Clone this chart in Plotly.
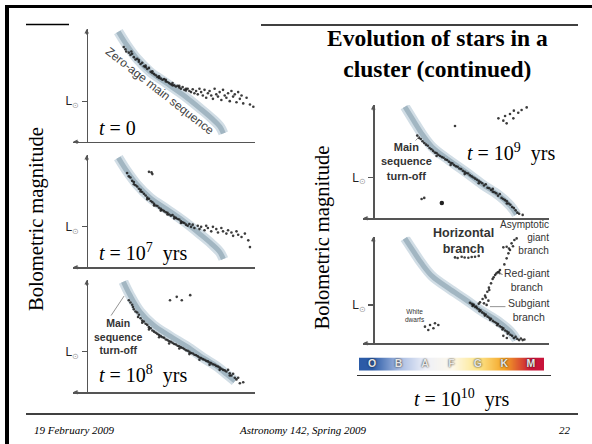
import plotly.graph_objects as go

W, H = 592, 444

# ---------------- data ----------------
L_SUN = 0.36  # position of the L_sun tick on each luminosity axis

# zero-age main sequence track (normalised colour, normalised luminosity)
zams_left_x = [0.188, 0.238, 0.297, 0.376, 0.475, 0.574, 0.673, 0.743, 0.792, 0.812]
zams_left_y = [0.976, 0.858, 0.740, 0.621, 0.518, 0.414, 0.296, 0.207, 0.133, 0.074]
zams_108_x = [0.218, 0.257, 0.317, 0.396, 0.495, 0.594, 0.693, 0.772, 0.832, 0.881]
zams_108_y = [0.985, 0.866, 0.718, 0.599, 0.500, 0.410, 0.306, 0.232, 0.160, 0.100]
zams_right_x = [0.180, 0.228, 0.275, 0.335, 0.430, 0.525, 0.620, 0.712, 0.780, 0.815]
zams_right_y = [0.985, 0.865, 0.750, 0.630, 0.515, 0.410, 0.300, 0.205, 0.110, 0.035]

stars_t0 = [(0.22, 0.84), (0.23, 0.82), (0.235, 0.80), (0.25, 0.79), (0.26, 0.77), (0.265, 0.80),
            (0.28, 0.75), (0.29, 0.73), (0.30, 0.735), (0.31, 0.71), (0.32, 0.69), (0.33, 0.70),
            (0.34, 0.67), (0.35, 0.66), (0.36, 0.645), (0.37, 0.655), (0.38, 0.62), (0.39, 0.61),
            (0.40, 0.60), (0.41, 0.59), (0.42, 0.575), (0.43, 0.58), (0.44, 0.56), (0.45, 0.55),
            (0.46, 0.555), (0.47, 0.535), (0.48, 0.53), (0.49, 0.52), (0.50, 0.51), (0.51, 0.52),
            (0.52, 0.50), (0.53, 0.49), (0.54, 0.495), (0.55, 0.48), (0.56, 0.47), (0.57, 0.485),
            (0.58, 0.46), (0.59, 0.455), (0.60, 0.47), (0.61, 0.45), (0.62, 0.44), (0.63, 0.465),
            (0.64, 0.43), (0.65, 0.45), (0.66, 0.42), (0.67, 0.47), (0.68, 0.44), (0.69, 0.41),
            (0.70, 0.46), (0.71, 0.39), (0.72, 0.43), (0.73, 0.45), (0.74, 0.41), (0.75, 0.38),
            (0.76, 0.47), (0.77, 0.42), (0.78, 0.40), (0.79, 0.44), (0.80, 0.37), (0.81, 0.46),
            (0.82, 0.41), (0.83, 0.39), (0.84, 0.43), (0.85, 0.36), (0.86, 0.45), (0.87, 0.40),
            (0.88, 0.42), (0.89, 0.35), (0.90, 0.44), (0.91, 0.38), (0.92, 0.41), (0.93, 0.34),
            (0.95, 0.39), (0.97, 0.33), (0.99, 0.31),
            (0.27, 0.78), (0.31, 0.725), (0.35, 0.675), (0.39, 0.625), (0.43, 0.565), (0.47, 0.55),
            (0.51, 0.50), (0.55, 0.495), (0.59, 0.47)]

stars_t7 = [(0.37, 0.85), (0.385, 0.845), (0.39, 0.83),
            (0.24, 0.84), (0.25, 0.81), (0.26, 0.80), (0.27, 0.77), (0.28, 0.76), (0.29, 0.73),
            (0.30, 0.72), (0.31, 0.70), (0.32, 0.69), (0.33, 0.67), (0.34, 0.655), (0.35, 0.64),
            (0.36, 0.62), (0.37, 0.61), (0.38, 0.59), (0.39, 0.58), (0.40, 0.565), (0.41, 0.55),
            (0.42, 0.545), (0.43, 0.53), (0.44, 0.52), (0.45, 0.51), (0.46, 0.50), (0.47, 0.49),
            (0.48, 0.485), (0.49, 0.47), (0.50, 0.46), (0.51, 0.465), (0.52, 0.45), (0.53, 0.44),
            (0.54, 0.43), (0.55, 0.425), (0.56, 0.41), (0.57, 0.40), (0.58, 0.395), (0.59, 0.38),
            (0.60, 0.37), (0.61, 0.385), (0.62, 0.36), (0.63, 0.38), (0.64, 0.35), (0.66, 0.37),
            (0.67, 0.34), (0.68, 0.36), (0.70, 0.33), (0.71, 0.37), (0.72, 0.35), (0.74, 0.32),
            (0.75, 0.36), (0.77, 0.34), (0.78, 0.31), (0.80, 0.35), (0.81, 0.32), (0.83, 0.30),
            (0.84, 0.33), (0.86, 0.31), (0.87, 0.28), (0.89, 0.32), (0.90, 0.29), (0.92, 0.27),
            (0.94, 0.30), (0.96, 0.24), (0.97, 0.18),
            (0.28, 0.74), (0.32, 0.675), (0.36, 0.605), (0.40, 0.55), (0.44, 0.505), (0.48, 0.47),
            (0.52, 0.435), (0.56, 0.395)]

stars_t8 = [(0.495, 0.82), (0.535, 0.85), (0.565, 0.82), (0.615, 0.865),
            (0.25, 0.82), (0.26, 0.80), (0.27, 0.78), (0.275, 0.76), (0.28, 0.74), (0.29, 0.72),
            (0.30, 0.71), (0.31, 0.69), (0.305, 0.67), (0.32, 0.66), (0.33, 0.64), (0.34, 0.63),
            (0.35, 0.61), (0.36, 0.60), (0.37, 0.58), (0.38, 0.57), (0.39, 0.55), (0.40, 0.54),
            (0.41, 0.53), (0.42, 0.52), (0.43, 0.51), (0.44, 0.50), (0.45, 0.49), (0.46, 0.485),
            (0.47, 0.47), (0.48, 0.465), (0.49, 0.455), (0.50, 0.45), (0.51, 0.44), (0.52, 0.43),
            (0.53, 0.425), (0.54, 0.415), (0.55, 0.41), (0.56, 0.40), (0.57, 0.395), (0.58, 0.385),
            (0.59, 0.375), (0.60, 0.37), (0.61, 0.36), (0.62, 0.35), (0.63, 0.345), (0.64, 0.335),
            (0.65, 0.33), (0.66, 0.32), (0.67, 0.31), (0.68, 0.305), (0.69, 0.295), (0.70, 0.29),
            (0.71, 0.28), (0.72, 0.275), (0.73, 0.265), (0.74, 0.26), (0.75, 0.25), (0.76, 0.245),
            (0.77, 0.235), (0.78, 0.23), (0.79, 0.22), (0.80, 0.21), (0.81, 0.20), (0.82, 0.195),
            (0.83, 0.185), (0.84, 0.20), (0.85, 0.17), (0.86, 0.15), (0.87, 0.165), (0.88, 0.13),
            (0.89, 0.115), (0.90, 0.13), (0.91, 0.08), (0.93, 0.09),
            (0.33, 0.62), (0.37, 0.56), (0.43, 0.49), (0.49, 0.435), (0.55, 0.39), (0.61, 0.34),
            (0.67, 0.29), (0.73, 0.245), (0.79, 0.20), (0.85, 0.15)]

stars_t9 = [(0.712, 0.882), (0.75, 0.903), (0.778, 0.92), (0.825, 0.932), (0.873, 0.979),
            (0.759, 0.838), (0.74, 0.862), (0.797, 0.882), (0.844, 0.956), (0.80, 0.95),
            (0.465, 0.815), (0.275, 0.17), (0.29, 0.18),
            (0.25, 0.73), (0.26, 0.71), (0.27, 0.70), (0.28, 0.68), (0.29, 0.665), (0.30, 0.65),
            (0.31, 0.64), (0.32, 0.62), (0.33, 0.61), (0.34, 0.595), (0.35, 0.58), (0.36, 0.575),
            (0.37, 0.56), (0.38, 0.55), (0.39, 0.54), (0.40, 0.535), (0.41, 0.52), (0.42, 0.515),
            (0.43, 0.50), (0.44, 0.49), (0.45, 0.485), (0.46, 0.47), (0.47, 0.46), (0.48, 0.455),
            (0.49, 0.44), (0.50, 0.435), (0.51, 0.42), (0.52, 0.41), (0.53, 0.40), (0.54, 0.395),
            (0.55, 0.38), (0.56, 0.37), (0.57, 0.36), (0.58, 0.35), (0.59, 0.34), (0.60, 0.33),
            (0.61, 0.32), (0.62, 0.31), (0.63, 0.29), (0.64, 0.30), (0.65, 0.27), (0.66, 0.265),
            (0.67, 0.25), (0.68, 0.26), (0.69, 0.23), (0.70, 0.22), (0.71, 0.20), (0.72, 0.215),
            (0.73, 0.18), (0.74, 0.17), (0.75, 0.16), (0.76, 0.15), (0.77, 0.13), (0.78, 0.12),
            (0.79, 0.10), (0.80, 0.09), (0.81, 0.07), (0.82, 0.05), (0.83, 0.04), (0.85, 0.03),
            (0.36, 0.55), (0.44, 0.47), (0.52, 0.39), (0.60, 0.31), (0.68, 0.235), (0.76, 0.13)]
big_star_t9 = [(0.39, 0.135)]

stars_t10 = [  # lower main sequence
             (0.55, 0.38), (0.56, 0.37), (0.565, 0.35), (0.57, 0.36), (0.58, 0.34), (0.59, 0.33),
             (0.60, 0.32), (0.605, 0.30), (0.61, 0.31), (0.62, 0.29), (0.63, 0.28), (0.635, 0.26),
             (0.64, 0.27), (0.65, 0.25), (0.66, 0.24), (0.665, 0.22), (0.67, 0.23), (0.68, 0.21),
             (0.69, 0.20), (0.70, 0.19), (0.705, 0.17), (0.71, 0.18), (0.72, 0.16), (0.73, 0.15),
             (0.735, 0.13), (0.74, 0.14), (0.75, 0.12), (0.76, 0.11), (0.765, 0.09), (0.77, 0.10),
             (0.78, 0.08), (0.79, 0.07), (0.80, 0.05), (0.81, 0.06), (0.82, 0.04), (0.83, 0.03),
             (0.84, 0.045), (0.85, 0.03), (0.86, 0.035), (0.76, 0.05), (0.74, 0.07),
             # subgiant branch
             (0.57, 0.36), (0.585, 0.345), (0.60, 0.37), (0.645, 0.36), (0.655, 0.40), (0.63, 0.375),
             # red-giant branch
             (0.607, 0.384), (0.622, 0.416), (0.636, 0.447), (0.649, 0.484), (0.658, 0.522),
             (0.67, 0.5625), (0.679, 0.603), (0.693, 0.641), (0.708, 0.666), (0.721, 0.6875),
             (0.64, 0.43), (0.66, 0.50), (0.685, 0.62), (0.70, 0.655), (0.715, 0.67),
             # asymptotic giant branch
             (0.746, 0.74), (0.759, 0.797), (0.769, 0.844), (0.772, 0.89), (0.787, 0.9375),
             (0.803, 0.969), (0.816, 0.984), (0.759, 0.906), (0.778, 0.875), (0.74, 0.90),
             (0.795, 0.91),
             # horizontal branch
             (0.465, 0.806), (0.48, 0.80), (0.503, 0.8125), (0.52, 0.805), (0.541, 0.803),
             (0.56, 0.81), (0.579, 0.8125), (0.60, 0.82),
             # white dwarfs
             (0.294, 0.156), (0.323, 0.172), (0.351, 0.188), (0.313, 0.125), (0.342, 0.141),
             (0.37, 0.172)]

spectral_types = ["O", "B", "A", "F", "G", "K", "M"]
spectral_index = [0, 1, 2, 3, 4, 5, 6]
spectral_colors = ["#2b5ba7", "#a8bce2", "#eef0f8", "#fdf8ea", "#fde68a", "#f4a324", "#c8143a"]

panel_times = ["<i>t</i> = 0",
               "<i>t</i> = 10<sup>7</sup>\u00a0 yrs",
               "<i>t</i> = 10<sup>8</sup>\u00a0 yrs",
               "<i>t</i> = 10<sup>9</sup>\u00a0 yrs",
               "<i>t</i> = 10<sup>10</sup>\u00a0 yrs"]

# ---------------- layout helpers ----------------
def px(xp):
    return xp / W


def py(yp):
    return 1 - yp / H


# (left edge, y-axis position, right edge, top, bottom) in pixels
panels = [
    dict(box=(73, 86.7, 255, 29, 141.7), zams=(zams_left_x, zams_left_y), stars=stars_t0),
    dict(box=(73, 86.7, 255, 155, 267.3), zams=(zams_left_x, zams_left_y), stars=stars_t7),
    dict(box=(73, 86.7, 255, 280, 392.3), zams=(zams_108_x, zams_108_y), stars=stars_t8),
    dict(box=(363, 373.3, 549, 105, 218.3), zams=(zams_right_x, zams_right_y), stars=stars_t9),
    dict(box=(363, 373.3, 549, 236.7, 343.3), zams=(zams_right_x, zams_right_y), stars=stars_t10),
]

fig = go.Figure()
layout = {}
annotations = []
AXC = "#555555"

for i, p in enumerate(panels, start=1):
    xl, xa, xr, yt, yb = p["box"]
    xn = "x" if i == 1 else f"x{i}"
    yn = "y" if i == 1 else f"y{i}"
    xkey = "xaxis" if i == 1 else f"xaxis{i}"
    ykey = "yaxis" if i == 1 else f"yaxis{i}"
    xmin = (xl - xa) / (xr - xa)
    layout[xkey] = dict(domain=[px(xl), px(xr)], range=[xmin, 1.0], anchor=yn,
                        showline=True, linecolor=AXC, linewidth=1.3, showgrid=False,
                        zeroline=False, showticklabels=False, ticks="", fixedrange=True)
    layout[ykey] = dict(domain=[py(yb), py(yt)], range=[0, 1.0], anchor="free",
                        position=px(xa), showline=True, linecolor=AXC, linewidth=1.3,
                        showgrid=False, zeroline=False, ticks="outside", ticklen=5,
                        tickcolor=AXC, tickwidth=1.2, tickvals=[L_SUN],
                        ticktext=["L<sub><span style='color:#999'>\u2299</span></sub>"],
                        tickfont=dict(family="Liberation Sans", size=12, color="#222"),
                        fixedrange=True)
    zx, zy = p["zams"]
    fig.add_trace(go.Scatter(x=zx, y=zy, mode="lines", xaxis=xn, yaxis=yn,
                             line=dict(color="rgba(190,206,218,0.7)", width=10, shape="spline"),
                             hoverinfo="skip"))
    fig.add_trace(go.Scatter(x=zx, y=zy, mode="lines", xaxis=xn, yaxis=yn,
                             line=dict(color="#a2b6c2", width=5, shape="spline"),
                             hoverinfo="skip"))
    sx = [s[0] for s in p["stars"]]
    sy = [s[1] for s in p["stars"]]
    fig.add_trace(go.Scatter(x=sx, y=sy, mode="markers", xaxis=xn, yaxis=yn,
                             marker=dict(color="#1a1a1a", size=2.6, opacity=0.85),
                             cliponaxis=False, hoverinfo="skip"))
    # arrow heads on the axes
    annotations.append(dict(x=0, y=1.0, xref=xn, yref=yn, text="", showarrow=True,
                            ax=0, ay=7, arrowhead=2, arrowsize=0.7, arrowwidth=1.3,
                            arrowcolor=AXC))
    annotations.append(dict(x=xmin, y=0, xref=xn, yref=yn, text="", showarrow=True,
                            ax=7, ay=0, arrowhead=2, arrowsize=0.7, arrowwidth=1.3,
                            arrowcolor=AXC))

fig.add_trace(go.Scatter(x=[s[0] for s in big_star_t9], y=[s[1] for s in big_star_t9],
                         mode="markers", xaxis="x4", yaxis="y4",
                         marker=dict(color="#222", size=4.5), hoverinfo="skip"))

# spectral-class colour strip
layout["xaxis6"] = dict(domain=[px(359), px(544)], range=[-0.5, 6.5], anchor="y6",
                        visible=False, fixedrange=True)
layout["yaxis6"] = dict(domain=[py(371), py(357.5)], range=[-0.5, 1.5], anchor="x6",
                        visible=False, fixedrange=True)
cs = [[k / (len(spectral_colors) - 1), c] for k, c in enumerate(spectral_colors)]
fig.add_trace(go.Heatmap(z=[spectral_index, spectral_index], x=spectral_index, y=[0, 1],
                         colorscale=cs, zsmooth="best", showscale=False,
                         xaxis="x6", yaxis="y6", hoverinfo="skip"))
fig.add_trace(go.Scatter(x=spectral_index, y=[0.5] * len(spectral_index), text=spectral_types,
                         mode="text", xaxis="x6", yaxis="y6", hoverinfo="skip",
                         textfont=dict(family="Liberation Sans", size=10.5, color="#e6e6e6",
                                       weight="bold", shadow="0px 0px 2px #111")))

# ---------------- texts ----------------
serif = "Liberation Serif"
sans = "Liberation Sans"

def ann(text, x, y, size, family=serif, color="black", xanchor="center", yanchor="middle",
        angle=0, align="center"):
    annotations.append(dict(text=text, x=px(x), y=py(y), xref="paper", yref="paper",
                            showarrow=False, xanchor=xanchor, yanchor=yanchor,
                            textangle=angle, align=align,
                            font=dict(family=family, size=size, color=color)))

ann("<b>Evolution of stars in a<br>cluster (continued)</b>", 437.5, 53, 23.5)
ann("Bolometric magnitude", 37, 219, 20.5, angle=-90)
ann("Bolometric magnitude", 322.5, 238, 20.5, angle=-90)

ann(panel_times[0], 96.7, 128.3, 20, xanchor="left")
ann(panel_times[1], 96.7, 252, 20, xanchor="left")
ann(panel_times[2], 96.7, 374, 20, xanchor="left")
ann(panel_times[3], 465, 152, 20, xanchor="left")
ann(panel_times[4], 461.5, 398, 20)

ann("Zero-age main sequence", 160, 91, 12, family=sans, color="#444", angle=38)
ann("<b>Main<br>sequence<br>turn-off</b>", 118.5, 336, 10.5, family=sans, color="#333")
ann("<b>Main<br>sequence<br>turn-off</b>", 406, 161.5, 11, family=sans, color="#333")
ann("<b>Horizontal<br>branch</b>", 463, 241, 12.5, family=sans, color="#333")
ann("Asymptotic<br>giant<br>branch", 551, 238, 10, family=sans, color="#333",
    xanchor="right", align="right")
ann("Red-giant<br>branch", 527, 280, 10.5, family=sans, color="#333")
ann("Subgiant<br>branch", 529, 310, 10.5, family=sans, color="#333")
ann("White<br>dwarfs", 415, 315.5, 6.5, family=sans, color="#333")

# leader lines
annotations.append(dict(x=0.222, y=0.857, xref="x3", yref="y3", text="", showarrow=True,
                        ax=-14, ay=21, arrowhead=0, arrowwidth=0.8, arrowcolor="#777"))
annotations.append(dict(x=0.266, y=0.726, xref="x4", yref="y4", text="", showarrow=True,
                        ax=-6, ay=6, arrowhead=0, arrowwidth=0.8, arrowcolor="#777"))
annotations.append(dict(x=0.664, y=0.344, xref="x5", yref="y5", text="", showarrow=True,
                        ax=17, ay=0, arrowhead=0, arrowwidth=0.8, arrowcolor="#777"))
annotations.append(dict(x=0.71, y=0.66, xref="x5", yref="y5", text="", showarrow=True,
                        ax=6, ay=2, arrowhead=2, arrowsize=0.6, arrowwidth=0.8,
                        arrowcolor="#555"))

# footer
ann("<i>19 February 2009</i>", 32, 430, 11, xanchor="left")
ann("<i>Astronomy 142, Spring 2009</i>", 303, 430, 11)
ann("<i>22</i>", 573, 430, 11, xanchor="right")

# ---------------- slide frame & rules ----------------
shapes = [
    dict(type="rect", xref="paper", yref="paper", x0=px(5), x1=px(9), y0=0, y1=py(5),
         fillcolor="black", line=dict(width=0)),
    dict(type="rect", xref="paper", yref="paper", x0=px(5), x1=1, y0=py(8), y1=py(5),
         fillcolor="black", line=dict(width=0)),
    dict(type="line", xref="paper", yref="paper", x0=px(26), x1=px(69), y0=py(24.5), y1=py(24.5),
         line=dict(color="black", width=1.3)),
    dict(type="line", xref="paper", yref="paper", x0=px(261), x1=px(578), y0=py(25), y1=py(25),
         line=dict(color="black", width=1.3)),
    dict(type="line", xref="paper", yref="paper", x0=px(26), x1=px(578), y0=py(414), y1=py(414),
         line=dict(color="black", width=1.3)),
    dict(type="line", xref="paper", yref="paper", x0=px(357), x1=px(551), y0=py(375.5),
         y1=py(375.5), line=dict(color="#333", width=1.2)),
]

fig.update_layout(width=W, height=H, margin=dict(l=0, r=0, t=0, b=0, pad=0),
                  paper_bgcolor="white", plot_bgcolor="white", showlegend=False,
                  annotations=annotations, shapes=shapes, **layout)

fig.write_html("out.html", config={"displayModeBar": False, "staticPlot": True},
               post_script="document.body.style.margin='0';document.body.style.overflow='hidden';")
